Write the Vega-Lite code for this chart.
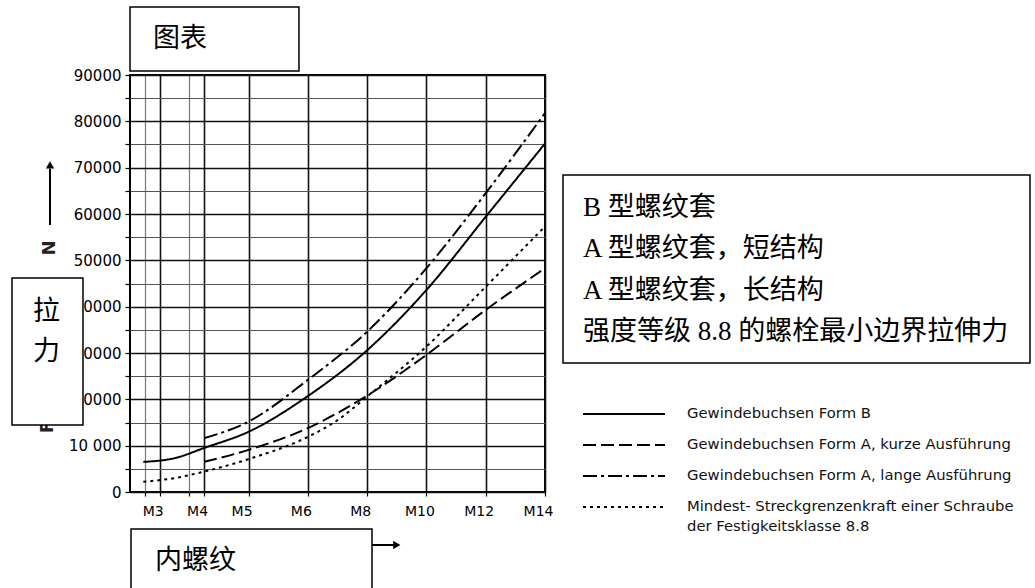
{
  "$schema": "https://vega.github.io/schema/vega-lite/v6.json",
  "width": 415,
  "height": 417,
  "autosize": {"type": "none"},
  "padding": {"left": 130, "top": 75, "right": 490, "bottom": 96},
  "background": "white",
  "config": {"view": {"stroke": "black", "strokeWidth": 2}},
  "encoding": {
    "x": {
      "field": "x", "type": "quantitative",
      "scale": {"domain": [0, 14], "nice": false, "zero": false},
      "axis": {
        "title": null,
        "values": [0.5, 1, 2, 2.5, 4, 6, 8, 10, 12, 14],
        "grid": true, "domain": false,
        "gridColor": {"condition": {"test": "datum.value === 0.5 || datum.value === 2", "value": "#777"}, "value": "#111"},
        "gridWidth": {"condition": {"test": "datum.value === 0.5 || datum.value === 2", "value": 1.2}, "value": 1.6},
        "tickSize": 4, "tickColor": "black", "tickWidth": 1.2,
        "labelExpr": "datum.value === 1 ? 'M3' : datum.value === 2.5 ? 'M4' : datum.value === 4 ? 'M5' : datum.value === 6 ? 'M6' : datum.value === 8 ? 'M8' : datum.value === 10 ? 'M10' : datum.value === 12 ? 'M12' : datum.value === 14 ? 'M14' : ''",
        "labelFont": "DejaVu Sans", "labelFontSize": 14, "labelColor": "black",
        "labelPadding": 8, "labelOffset": -7, "labelFlush": false, "labelOverlap": false
      }
    },
    "y": {
      "field": "y", "type": "quantitative",
      "scale": {"domain": [0, 90000], "nice": false, "zero": false},
      "axis": {
        "title": null,
        "values": [0, 5000, 10000, 15000, 20000, 25000, 30000, 35000, 40000, 45000, 50000, 55000, 60000, 65000, 70000, 75000, 80000, 85000, 90000],
        "grid": true, "domain": false,
        "gridColor": {"condition": {"test": "datum.value % 10000 === 0", "value": "#111"}, "value": "#555"},
        "gridWidth": {"condition": {"test": "datum.value % 10000 === 0", "value": 1.6}, "value": 1.2},
        "tickSize": 5, "tickColor": "black", "tickWidth": 1.2,
        "labelExpr": "datum.value % 10000 !== 0 ? '' : datum.value === 10000 ? '10 000' : format(datum.value, 'd')",
        "labelFont": "DejaVu Sans", "labelFontSize": 15, "labelColor": "black",
        "labelPadding": 4, "labelFlush": false, "labelOverlap": false
      }
    }
  },
  "layer": [
    {
      "data": {"values": [
        {"series": "Gewindebuchsen Form B", "x": 0.45, "y": 6500},
        {"series": "Gewindebuchsen Form B", "x": 1.5, "y": 7300},
        {"series": "Gewindebuchsen Form B", "x": 2.5, "y": 9500},
        {"series": "Gewindebuchsen Form B", "x": 4, "y": 13000},
        {"series": "Gewindebuchsen Form B", "x": 6, "y": 20700},
        {"series": "Gewindebuchsen Form B", "x": 8, "y": 30600},
        {"series": "Gewindebuchsen Form B", "x": 10, "y": 43600},
        {"series": "Gewindebuchsen Form B", "x": 12, "y": 59400},
        {"series": "Gewindebuchsen Form B", "x": 14, "y": 75200},
        {"series": "Gewindebuchsen Form A, kurze Ausführung", "x": 2.5, "y": 6500},
        {"series": "Gewindebuchsen Form A, kurze Ausführung", "x": 4, "y": 9100},
        {"series": "Gewindebuchsen Form A, kurze Ausführung", "x": 6, "y": 13800},
        {"series": "Gewindebuchsen Form A, kurze Ausführung", "x": 8, "y": 20800},
        {"series": "Gewindebuchsen Form A, kurze Ausführung", "x": 10, "y": 29600},
        {"series": "Gewindebuchsen Form A, kurze Ausführung", "x": 12, "y": 39300},
        {"series": "Gewindebuchsen Form A, kurze Ausführung", "x": 14, "y": 48300},
        {"series": "Gewindebuchsen Form A, lange Ausführung", "x": 2.5, "y": 11600},
        {"series": "Gewindebuchsen Form A, lange Ausführung", "x": 4, "y": 15200},
        {"series": "Gewindebuchsen Form A, lange Ausführung", "x": 6, "y": 24200},
        {"series": "Gewindebuchsen Form A, lange Ausführung", "x": 8, "y": 34600},
        {"series": "Gewindebuchsen Form A, lange Ausführung", "x": 10, "y": 48300},
        {"series": "Gewindebuchsen Form A, lange Ausführung", "x": 12, "y": 64500},
        {"series": "Gewindebuchsen Form A, lange Ausführung", "x": 14, "y": 81800},
        {"series": "Mindest- Streckgrenzenkraft einer Schraube", "x": 0.45, "y": 2200},
        {"series": "Mindest- Streckgrenzenkraft einer Schraube", "x": 1.5, "y": 3000},
        {"series": "Mindest- Streckgrenzenkraft einer Schraube", "x": 2.5, "y": 4400},
        {"series": "Mindest- Streckgrenzenkraft einer Schraube", "x": 4, "y": 7100},
        {"series": "Mindest- Streckgrenzenkraft einer Schraube", "x": 6, "y": 11900},
        {"series": "Mindest- Streckgrenzenkraft einer Schraube", "x": 7, "y": 15500},
        {"series": "Mindest- Streckgrenzenkraft einer Schraube", "x": 8, "y": 20600},
        {"series": "Mindest- Streckgrenzenkraft einer Schraube", "x": 10, "y": 31400},
        {"series": "Mindest- Streckgrenzenkraft einer Schraube", "x": 12, "y": 44300},
        {"series": "Mindest- Streckgrenzenkraft einer Schraube", "x": 14, "y": 57300}
      ]},
      "mark": {"type": "line", "interpolate": "monotone", "color": "black", "strokeWidth": 2},
      "encoding": {
        "strokeDash": {
          "field": "series", "type": "nominal", "legend": null,
          "scale": {
            "domain": ["Gewindebuchsen Form B", "Gewindebuchsen Form A, kurze Ausführung", "Gewindebuchsen Form A, lange Ausführung", "Mindest- Streckgrenzenkraft einer Schraube"],
            "range": [[1, 0], [13, 5], [14, 4, 3, 4], [3, 4]]
          }
        }
      }
    },
    {
      "data": {"values": [
        {"series": "Gewindebuchsen Form B", "x": 15.282, "x2": 18.048, "y": 16835},
        {"series": "Gewindebuchsen Form A, kurze Ausführung", "x": 15.282, "x2": 18.048, "y": 10144},
        {"series": "Gewindebuchsen Form A, lange Ausführung", "x": 15.282, "x2": 18.048, "y": 3453},
        {"series": "Mindest- Streckgrenzenkraft einer Schraube", "x": 15.282, "x2": 18.048, "y": -3237}
      ]},
      "mark": {"type": "rule", "color": "black", "strokeWidth": 2},
      "encoding": {
        "x2": {"field": "x2"},
        "strokeDash": {"field": "series", "type": "nominal", "legend": null}
      }
    },
    {
      "data": {"values": [
        {"label": "Gewindebuchsen Form B", "x": 18.79, "y": 16835},
        {"label": "Gewindebuchsen Form A, kurze Ausführung", "x": 18.79, "y": 10144},
        {"label": "Gewindebuchsen Form A, lange Ausführung", "x": 18.79, "y": 3453},
        {"label": "Mindest- Streckgrenzenkraft einer Schraube", "x": 18.79, "y": -3237},
        {"label": "der Festigkeitsklasse 8.8", "x": 18.79, "y": -7554}
      ]},
      "mark": {"type": "text", "align": "left", "baseline": "middle", "font": "DejaVu Sans", "fontSize": 14.8, "color": "#111"},
      "encoding": {"text": {"field": "label"}}
    },
    {
      "data": {"values": [
        {"x": -2.699, "x2": -2.699, "y": 57627, "y2": 69800},
        {"x": 7.76, "x2": 8.95, "y": -11439, "y2": -11439}
      ]},
      "mark": {"type": "rule", "color": "black", "strokeWidth": 2},
      "encoding": {"x2": {"field": "x2"}, "y2": {"field": "y2"}}
    },
    {
      "data": {"values": [
        {"x": -2.699, "y": 70600, "shape": "triangle-up"},
        {"x": 9.0, "y": -11439, "shape": "triangle-right"}
      ]},
      "mark": {"type": "point", "filled": true, "color": "black", "size": 70, "opacity": 1},
      "encoding": {"shape": {"field": "shape", "type": "nominal", "scale": null, "legend": null}}
    },
    {
      "data": {"values": [
        {"label": "N", "x": -2.699, "y": 52663},
        {"label": "F", "x": -2.75, "y": 14029}
      ]},
      "mark": {"type": "text", "angle": 270, "align": "center", "baseline": "middle", "font": "DejaVu Sans", "fontSize": 18, "fontWeight": "bold", "color": "#222"},
      "encoding": {"text": {"field": "label"}}
    },
    {
      "data": {"values": [
        {"x": 0, "x2": 5.70, "y": 104680, "y2": 90864},
        {"x": -3.981, "x2": -1.586, "y": 46188, "y2": 14461},
        {"x": 0.034, "x2": 8.164, "y": -7986, "y2": -21800},
        {"x": 14.607, "x2": 30.361, "y": 68418, "y2": 27842}
      ]},
      "mark": {"type": "rect", "fill": "white", "stroke": "black", "strokeWidth": 1.5},
      "encoding": {"x2": {"field": "x2"}, "y2": {"field": "y2"}}
    },
    {
      "data": {"values": [
        {"label": "图表", "x": 0.776, "y": 97663},
        {"label": "拉", "x": -3.272, "y": 38849},
        {"label": "力", "x": -3.272, "y": 30216},
        {"label": "内螺纹", "x": 0.843, "y": -14892},
        {"label": "B 型螺纹套", "x": 15.282, "y": 61296},
        {"label": "A 型螺纹套，短结构", "x": 15.282, "y": 52339},
        {"label": "A 型螺纹套，长结构", "x": 15.282, "y": 43382},
        {"label": "强度等级 8.8 的螺栓最小边界拉伸力", "x": 15.282, "y": 34533}
      ]},
      "mark": {"type": "text", "align": "left", "baseline": "middle", "font": "Liberation Serif, Noto Sans CJK SC", "fontSize": 27, "color": "black"},
      "encoding": {"text": {"field": "label"}}
    }
  ]
}
